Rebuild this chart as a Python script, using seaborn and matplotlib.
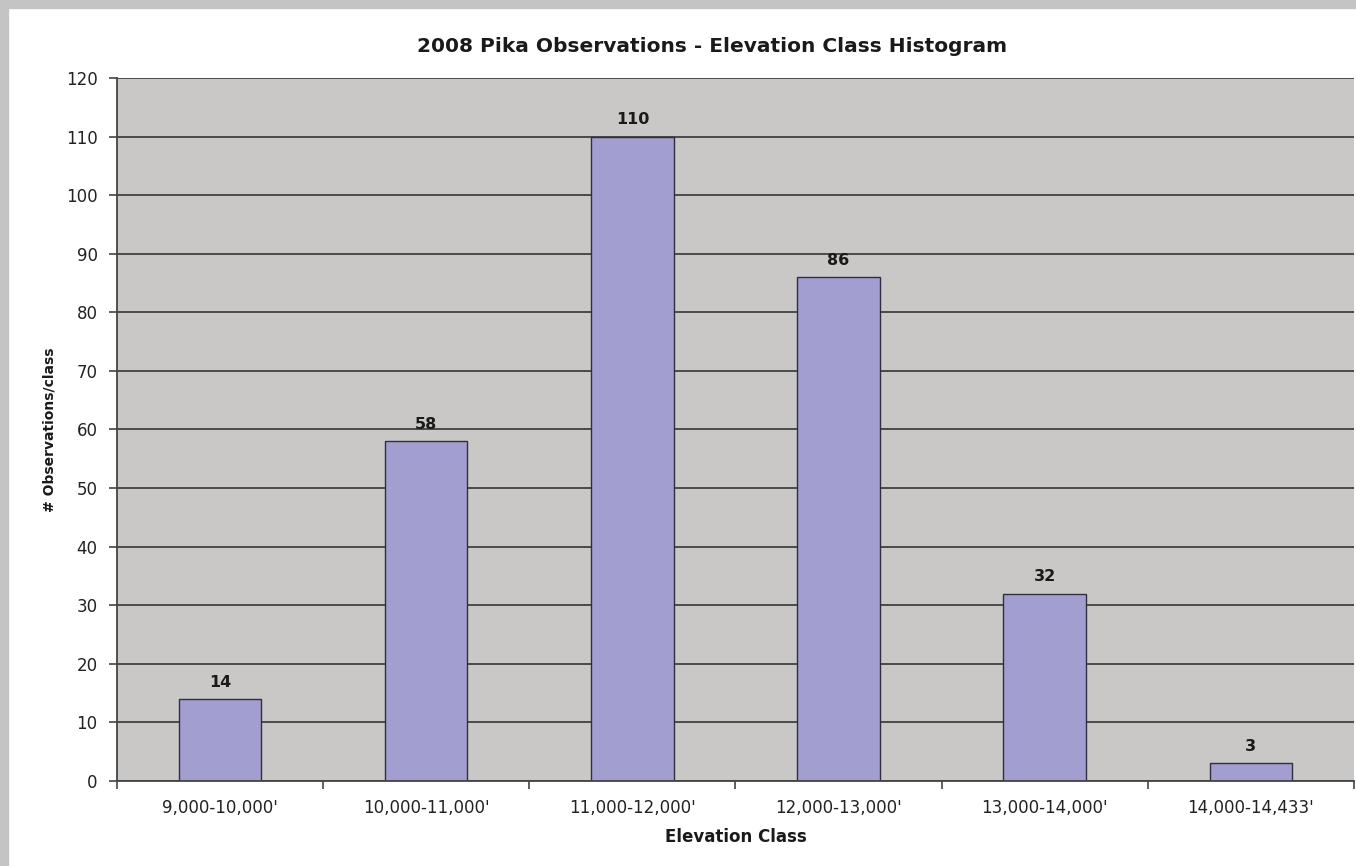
import matplotlib
matplotlib.use('Agg')
import matplotlib.pyplot as plt
import seaborn as sns
import pandas as pd
from matplotlib.patches import Rectangle

# Data
classes = ["9,000-10,000'", "10,000-11,000'", "11,000-12,000'",
           "12,000-13,000'", "13,000-14,000'", "14,000-14,433'"]
counts = [14, 58, 110, 86, 32, 3]

df = pd.DataFrame({'Elevation Class': classes, 'Observations': counts})

sns.set_style('white')
plt.rcParams['font.family'] = ['DejaVu Sans']

fig = plt.figure(figsize=(13.56, 8.66), dpi=100)
ax = fig.add_axes([0.0863, 0.0982, 0.9122, 0.8117])
ax.set_facecolor('#C9C8C7')

# grid lines behind bars
ax.set_axisbelow(True)
ax.yaxis.grid(True, color='#4a4a4a', linewidth=1.4)

sns.barplot(data=df, x='Elevation Class', y='Observations', ax=ax,
            color='#A29ED0', saturation=1, width=0.4,
            edgecolor='#2e2e3e', linewidth=1.0)

for i, v in enumerate(counts):
    ax.text(i, v + 1.6, str(v), ha='center', va='bottom',
            fontsize=11.5, fontweight='bold', color='#1a1a1a')

ax.set_xlim(-0.5, len(classes) - 0.5)
ax.set_ylim(0, 120)
ax.set_yticks(range(0, 121, 10))

# tick marks at category boundaries, labels at centers
ax.set_xticks([i - 0.5 for i in range(len(classes) + 1)], minor=True)
ax.tick_params(axis='x', which='major', length=0, pad=13, labelsize=12, colors='#222222')
ax.tick_params(axis='x', which='minor', length=6, width=1.2, color='#444444', direction='out')
ax.tick_params(axis='y', which='major', length=6, width=1.2, color='#444444',
               direction='out', labelsize=12, labelcolor='#222222', pad=8)
ax.tick_params(axis='both', bottom=True, left=True)
ax.xaxis.set_tick_params(which='minor', bottom=True)

for s in ['top', 'right']:
    ax.spines[s].set_visible(False)
for s in ['left', 'bottom']:
    ax.spines[s].set_color('#444444')
    ax.spines[s].set_linewidth(1.3)

ax.set_title('2008 Pika Observations - Elevation Class Histogram',
             fontsize=14.5, fontweight='bold', color='#1a1a1a', pad=19, x=0.481)
ax.set_xlabel('Elevation Class', fontsize=12, fontweight='bold', color='#1a1a1a', labelpad=8)
ax.set_ylabel('# Observations/class', fontsize=10, fontweight='bold', color='#1a1a1a', labelpad=7)

# shadow frame at top and left like the screenshot
fig.patches.append(Rectangle((0, 1 - 8 / 866), 1, 8 / 866, transform=fig.transFigure,
                             color='#c4c4c4', zorder=-1))
fig.patches.append(Rectangle((0, 0), 8 / 1356, 1, transform=fig.transFigure,
                             color='#c4c4c4', zorder=-1))

fig.savefig('out.png', dpi=100)
